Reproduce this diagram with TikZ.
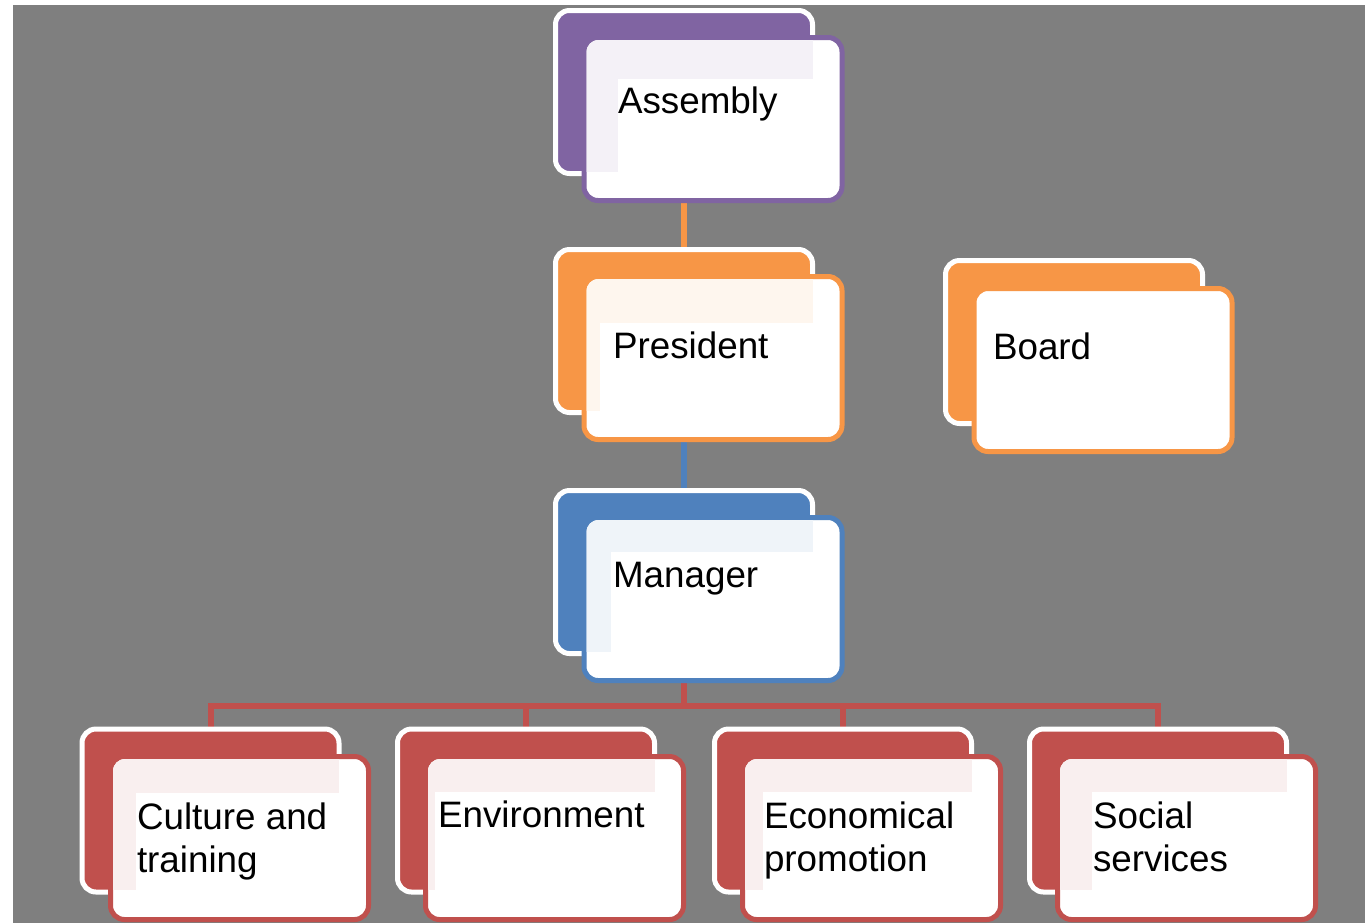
\documentclass[tikz,border=0pt]{standalone}
\usepackage{fontspec}
\setmainfont{Liberation Sans}
\pgfdeclarelayer{bg}
\pgfdeclarelayer{lines}
\pgfsetlayers{bg,lines,main}
\definecolor{bggray}{RGB}{127,127,127}
\definecolor{cpurple}{RGB}{128,100,162}
\definecolor{corange}{RGB}{247,150,70}
\definecolor{cblue}{RGB}{79,129,189}
\definecolor{cred}{RGB}{192,80,77}
\tikzset{
  backbox/.style={rectangle, rounded corners=7pt, draw=white, fill=#1, line width=2.5pt,
    minimum width=128.5pt, minimum height=81.5pt, inner sep=0pt, outer sep=0pt},
  frontbox/.style={rectangle, rounded corners=7pt, draw=#1, fill=white, line width=2.5pt,
    minimum width=129pt, minimum height=81.5pt, inner sep=0pt, outer sep=0pt},
  lbl/.style={anchor=base west, inner sep=0pt, outer sep=0pt, text=black,
    font=\fontsize{18.4pt}{21.5pt}\selectfont},
  conn/.style={line width=3pt, draw=#1},
}
\newcommand\tintbox[4]{%
  \begin{scope}
    \clip[rounded corners=6pt] ([xshift=1.25pt,yshift=-1.25pt]#1F.north west) rectangle ([xshift=-1.25pt,yshift=1.25pt]#1F.south east);
    \fill[#2!9!white] (#1B.north west) rectangle ([yshift=1pt]#1B.south east);
    \fill[white] (#3,#4) rectangle ([xshift=1.5pt,yshift=-1pt]#1B.south east);
  \end{scope}}
\newcommand\twolines[2]{\vtop{\baselineskip=21.5pt\lineskiplimit=-10pt\hbox{#1}\hbox{#2}}}
\begin{document}
\begin{tikzpicture}[x=0.5pt,y=-0.5pt]
\useasboundingbox (0,0) rectangle (1365,923);
\begin{pgfonlayer}{bg}
  \fill[white] (0,0) rectangle (1365,923);
  \fill[bggray] (13,5) rectangle (1365,923);
\end{pgfonlayer}

% Assembly
\node[backbox=cpurple] (assemblyB) at (684,92) {};
\node[frontbox=cpurple] (assemblyF) at (713,119) {};
\tintbox{assembly}{cpurple}{618}{79}
\node[lbl] (assemblyT) at (618,113) {Assembly};

% President
\node[backbox=corange] (presidentB) at (684,331) {};
\node[frontbox=corange] (presidentF) at (713,358) {};
\tintbox{president}{corange}{600}{323}
\node[lbl] (presidentT) at (613,358) {President};

% Board
\node[backbox=corange] (boardB) at (1074,342) {};
\node[frontbox=corange] (boardF) at (1103,370) {};
\node[lbl] (boardT) at (993,359) {Board};

% Manager
\node[backbox=cblue] (managerB) at (684,572) {};
\node[frontbox=cblue] (managerF) at (713,599) {};
\tintbox{manager}{cblue}{611}{552}
\node[lbl] (managerT) at (613,587) {Manager};

% Culture and training
\node[backbox=cred] (cultureB) at (210.5,810.5) {};
\node[frontbox=cred] (cultureF) at (239.5,838) {};
\tintbox{culture}{cred}{136}{793}
\node[lbl] (cultureT) at (137,829) {\twolines{Culture and}{training}};

% Environment
\node[backbox=cred] (envB) at (526,810.5) {};
\node[frontbox=cred] (envF) at (554.5,838) {};
\tintbox{env}{cred}{435}{792}
\node[lbl] (envT) at (438,827) {Environment};

% Economical promotion
\node[backbox=cred] (econB) at (843,810.5) {};
\node[frontbox=cred] (econF) at (871.5,838) {};
\tintbox{econ}{cred}{763}{792}
\node[lbl] (econT) at (764,828) {\twolines{Economical}{promotion}};

% Social services
\node[backbox=cred] (socialB) at (1158,810.5) {};
\node[frontbox=cred] (socialF) at (1186.5,838) {};
\tintbox{social}{cred}{1092}{792}
\node[lbl] (socialT) at (1093,828) {\twolines{Social}{services}};

% connectors
\begin{pgfonlayer}{lines}
  \draw[conn=corange] (assemblyB.south) -- (presidentB.north);
  \draw[conn=cblue] (presidentB.south) -- (managerB.north);
  \coordinate (bus) at (684,706);
  \draw[conn=cred] (managerB.south) -- (bus);
  \draw[conn=cred] (bus) -| (cultureB.north);
  \draw[conn=cred] (bus) -| (envB.north);
  \draw[conn=cred] (bus) -| (econB.north);
  \draw[conn=cred] (bus) -| (socialB.north);
\end{pgfonlayer}
\end{tikzpicture}
\end{document}
